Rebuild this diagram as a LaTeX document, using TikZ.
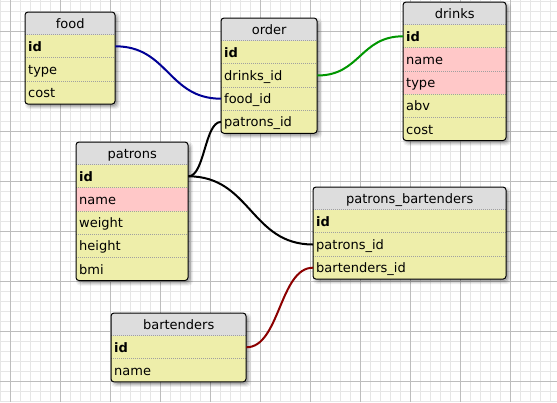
\documentclass[tikz,border=0pt]{standalone}
\usepackage{fontspec}
\setmainfont{DejaVu Sans}
\usetikzlibrary{calc}
\definecolor{rowyel}{HTML}{EEEEAA}
\definecolor{rowpink}{HTML}{FFC8C8}
\definecolor{hdrgray}{HTML}{DDDDDD}
\definecolor{gridminor}{HTML}{E6E6E6}
\definecolor{gridmajor}{HTML}{BDBDBD}
\definecolor{fkblue}{HTML}{000096}
\definecolor{fkgreen}{HTML}{009600}
\definecolor{fkred}{HTML}{8C0000}
\definecolor{sepgray}{HTML}{A0A0A0}
\pgfdeclarelayer{gridlayer}
\pgfdeclarelayer{shadowlayer}
\pgfsetlayers{gridlayer,shadowlayer,main}
\tikzset{
  tfont/.style={font=\fontsize{13}{15}\selectfont, text height=12pt, text depth=2pt},
  hdrbox/.style={tfont, fill=hdrgray, anchor=north west, inner sep=0pt, minimum height=22.5pt, align=center},
  cellbox/.style={tfont, anchor=north west, inner xsep=3pt, inner ysep=0pt, minimum height=23.2pt, align=left},
  sepline/.style={sepgray, line width=0.8pt, dash pattern=on 1pt off 1pt},
  tborder/.style={draw=black, line width=1pt, rounded corners=3pt},
  fkline/.style={line width=2pt},
  gminor/.style={gridminor, line width=1pt},
  gmajor/.style={gridmajor, line width=1pt}
}
% #1 name, #2 x, #3 y, #4 width, #5 title, #6 nrows, #7 rows (name/text/fill)
\newcommand\dbtable[7]{%
  \pgfmathsetmacro\tbot{#3+22.5+#6*23.2}%
  \pgfmathsetmacro\tright{#2+#4}%
  \pgfmathsetmacro\tinner{#4-6}%
  \begin{pgfonlayer}{shadowlayer}
    \foreach \r/\o in {3/0.06,2/0.08,1/0.10,0/0.14}{%
      \fill[black, opacity=\o, rounded corners=4pt] ({#2+3-\r},{#3+3-\r}) rectangle ({\tright+2+\r},{\tbot+2+\r});
    }
  \end{pgfonlayer}
  \begin{scope}
    \clip[rounded corners=3pt] (#2,#3) rectangle (\tright,\tbot);
    \node[hdrbox, minimum width=#4pt] (#1-head) at (#2,#3) {#5};
    \foreach \nm/\txt/\fc [count=\i from 0] in {#7}{%
      \node[cellbox, text width=\tinner pt, fill=\fc] (#1-\nm) at (#2,{#3+22.5+\i*23.2}) {\txt};
    }
  \end{scope}
  \foreach \i in {1,...,#6}{%
    \draw[sepline] (#2,{#3+22.5+(\i-1)*23.2}) -- (\tright,{#3+22.5+(\i-1)*23.2});
  }
  \draw[tborder] (#2,#3) rectangle (\tright,\tbot);
}
\newcommand\fklink[3]{%
  \draw[fkline,#1] let \p1=(#2.east), \p2=(#3.west) in
    (\p1) .. controls ({(\x1+\x2)/2},\y1) and ({(\x1+\x2)/2},\y2) .. (\p2);
}
\begin{document}
\begin{tikzpicture}[x=1pt,y=-1pt]
\useasboundingbox (0,0) rectangle (557,402);
\begin{pgfonlayer}{gridlayer}
  \fill[white] (0,0) rectangle (557,402);
  \foreach \k in {0,...,55} \draw[gminor] ({\k*10+0.5},0) -- ({\k*10+0.5},402);
  \foreach \k in {0,...,40} \draw[gminor] (0,{\k*10+1.5}) -- (557,{\k*10+1.5});
  \foreach \k in {0,...,10} \draw[gmajor] ({\k*50+10.5},0) -- ({\k*50+10.5},402);
  \foreach \k in {0,...,7} \draw[gmajor] (0,{\k*50+31.5}) -- (557,{\k*50+31.5});
\end{pgfonlayer}

\dbtable{food}{25}{12}{90}{food}{3}{id/\textbf{id}/rowyel, type/type/rowyel, cost/cost/rowyel}
\dbtable{order}{221}{18}{96}{order}{4}{id/\textbf{id}/rowyel, drinksid/drinks\_id/rowyel, foodid/food\_id/rowyel, patronsid/patrons\_id/rowyel}
\dbtable{drinks}{403}{2}{103}{drinks}{5}{id/\textbf{id}/rowyel, name/name/rowpink, type/type/rowpink, abv/abv/rowyel, cost/cost/rowyel}
\dbtable{patrons}{76}{142}{112}{patrons}{5}{id/\textbf{id}/rowyel, name/name/rowpink, weight/weight/rowyel, height/height/rowyel, bmi/bmi/rowyel}
\dbtable{pb}{313}{187}{193}{patrons\_bartenders}{3}{id/\textbf{id}/rowyel, patronsid/patrons\_id/rowyel, bartendersid/bartenders\_id/rowyel}
\dbtable{bart}{111}{313}{135}{bartenders}{2}{id/\textbf{id}/rowyel, name/name/rowyel}

\fklink{fkblue}{food-id}{order-foodid}
\fklink{fkgreen}{order-drinksid}{drinks-id}
\fklink{black}{patrons-id}{order-patronsid}
\fklink{black}{patrons-id}{pb-patronsid}
\fklink{fkred}{bart-id}{pb-bartendersid}
\end{tikzpicture}
\end{document}
